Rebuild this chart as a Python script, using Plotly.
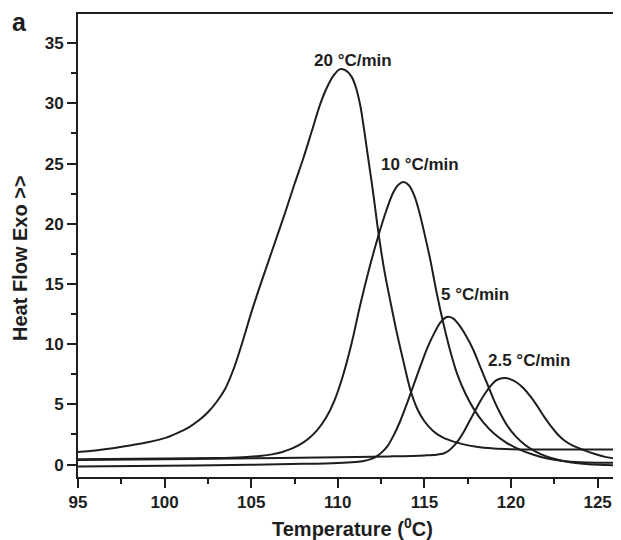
import plotly.graph_objects as go

# ---- data ----
t_20 = [95, 96, 97, 98, 99, 100, 100.7, 101.4, 102, 102.5, 103, 103.5, 104, 104.5, 105,
        105.5, 106, 106.5, 107, 107.5, 108, 108.5, 109, 109.4, 109.8, 110.14, 110.5, 110.8,
        111.05, 111.3, 111.5, 111.7, 112.0, 112.36, 112.7, 113.0, 113.4, 113.8, 114.19,
        114.6, 115.0, 115.5, 116.0, 116.6, 117.2, 118.0, 119.0, 120.0, 121.5, 126.35]
hf_20 = [1.05, 1.18, 1.35, 1.58, 1.85, 2.2, 2.6, 3.1, 3.7, 4.35, 5.2, 6.3, 8.0, 10.2, 12.6,
         14.8, 16.9, 19.0, 21.1, 23.3, 25.4, 27.7, 30.0, 31.4, 32.4, 32.84, 32.7, 32.2,
         31.3, 29.8, 28.0, 26.0, 23.0, 19.1, 16.0, 13.8, 11.0, 8.5, 6.2,
         4.6, 3.6, 2.8, 2.3, 1.95, 1.7, 1.48, 1.34, 1.28, 1.25, 1.25]

t_10 = [95, 100, 103, 104.5, 105.5, 106.2, 106.8, 107.3, 107.8, 108.3, 108.8, 109.3, 109.8,
        110.3, 110.8, 111.3, 111.8, 112.3, 112.8, 113.2, 113.5, 113.8, 114.1, 114.4, 114.7,
        115.0, 115.34, 115.73, 116.1, 116.5, 116.9, 117.4, 117.9, 118.4, 119.0, 119.7,
        120.5, 121.3, 122.1, 123.0, 124.0, 125.0, 126.35]
hf_10 = [0.45, 0.5, 0.55, 0.62, 0.72, 0.85, 1.05, 1.3, 1.65, 2.15, 2.85, 3.85, 5.3,
         7.4, 10.1, 13.3, 16.2, 18.8, 21.1, 22.6, 23.25, 23.46, 23.2, 22.4, 21.0,
         19.2, 17.0, 14.1, 11.7, 9.4, 7.5, 5.8, 4.5, 3.5, 2.6, 1.85,
         1.25, 0.82, 0.5, 0.3, 0.2, 0.16, 0.14]

t_5 = [95, 100, 105, 108, 110, 111, 111.5, 111.9, 112.26, 112.6, 112.9, 113.25, 113.6, 114.0,
       114.4, 114.8, 115.2, 115.6, 115.95, 116.3, 116.65, 117.0, 117.4, 117.8, 118.2, 118.6,
       119.0, 119.4, 119.8, 120.3, 120.8, 121.4, 122.0, 122.7, 123.5, 124.5, 125.5, 126.35]
hf_5 = [-0.15, -0.1, -0.02, 0.06, 0.14, 0.22, 0.3, 0.45, 0.7, 1.1, 1.6, 2.5, 3.6, 5.1,
        6.7, 8.3, 9.8, 11.0, 11.85, 12.26, 12.15, 11.6, 10.7, 9.6, 8.2, 6.8,
        5.4, 4.2, 3.2, 2.3, 1.65, 1.1, 0.7, 0.4, 0.18, 0.02, -0.04, -0.06]

t_25 = [95, 100, 105, 110, 113, 115, 115.7, 116.1, 116.4, 116.7, 117.0, 117.3, 117.6, 117.9,
        118.2, 118.5, 118.8, 119.1, 119.4, 119.65, 119.95, 120.35, 120.75, 121.1, 121.5,
        121.9, 122.3, 122.7, 123.1, 123.6, 124.2, 124.8, 125.5, 126.35]
hf_25 = [0.38, 0.45, 0.52, 0.6, 0.68, 0.76, 0.82, 0.92, 1.15, 1.55, 2.1, 2.8, 3.6, 4.4,
         5.2, 5.9, 6.5, 6.95, 7.15, 7.19, 7.1, 6.8, 6.3, 5.7, 4.9,
         4.0, 3.2, 2.5, 1.98, 1.55, 1.2, 0.9, 0.62, 0.42]

series = [("20 °C/min", t_20, hf_20), ("10 °C/min", t_10, hf_10),
          ("5 °C/min", t_5, hf_5), ("2.5 °C/min", t_25, hf_25)]

# label anchor points (data coordinates)
label_x = [110.86, 114.73, 117.91, 121.06]
label_y = [33.6, 24.9, 14.1, 8.66]

x_ticks = [95, 100, 105, 110, 115, 120, 125]
y_ticks = [0, 5, 10, 15, 20, 25, 30, 35]

FONT = "Liberation Sans, Arial, sans-serif"
INK = "#1e1e1e"

fig = go.Figure()
for name, t, hf in series:
    fig.add_trace(go.Scatter(x=t, y=hf, mode="lines", name=name,
                             line=dict(color=INK, width=2, shape="spline", smoothing=1.0),
                             showlegend=False))

for (name, _, _), lx, ly in zip(series, label_x, label_y):
    fig.add_annotation(x=lx, y=ly, xref="x", yref="y", text="<b>%s</b>" % name,
                       showarrow=False, font=dict(family=FONT, size=17, color=INK))

# panel letter and axis titles (paper coordinates)
fig.add_annotation(x=-0.107, y=0.983, xref="paper", yref="paper", text="<b>a</b>",
                   showarrow=False, xanchor="center", yanchor="middle",
                   font=dict(family=FONT, size=25, color=INK))
fig.add_annotation(x=0.506, y=-0.108, xref="paper", yref="paper",
                   text="<b>Temperature (<sup>0</sup>C)</b>",
                   showarrow=False, xanchor="center", yanchor="middle",
                   font=dict(family=FONT, size=20, color=INK))
fig.add_annotation(x=-0.1068, y=0.473, xref="paper", yref="paper",
                   text="<b>Heat Flow Exo >></b>", textangle=-90,
                   showarrow=False, xanchor="center", yanchor="middle",
                   font=dict(family=FONT, size=20, color=INK))

# page body has an 8px margin: figure is sized/offset to fill the 621x540 window
fig.update_layout(
    width=613, height=532,
    margin=dict(l=70, r=0, t=6, b=63),
    paper_bgcolor="white", plot_bgcolor="white",
    font=dict(family=FONT, color=INK),
)

fig.update_xaxes(range=[95, 126.35], tickvals=x_ticks,
                 showline=True, linecolor=INK, linewidth=2, mirror=True,
                 ticks="outside", ticklen=9, tickwidth=2, tickcolor=INK,
                 minor=dict(dtick=2.5, tick0=95, ticks="outside", ticklen=5, tickwidth=2,
                            tickcolor=INK),
                 showgrid=False, zeroline=False,
                 tickfont=dict(family=FONT, size=17, color=INK, weight="bold"))
fig.update_yaxes(range=[-1.03, 37.42], tickvals=y_ticks,
                 showline=True, linecolor=INK, linewidth=2, mirror=False,
                 ticks="outside", ticklen=9, tickwidth=2, tickcolor=INK,
                 minor=dict(dtick=2.5, tick0=0, ticks="outside", ticklen=5, tickwidth=2,
                            tickcolor=INK),
                 showgrid=False, zeroline=False,
                 tickfont=dict(family=FONT, size=17, color=INK, weight="bold"))

fig.write_html("out.html")
